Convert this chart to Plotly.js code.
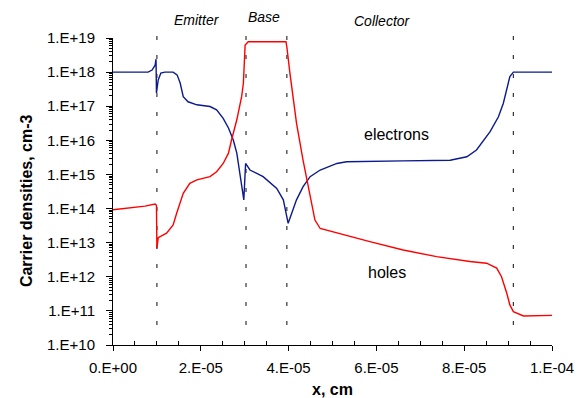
<!DOCTYPE html>
<html>
<head>
<meta charset="utf-8">
<script src="https://cdn.plot.ly/plotly-3.0.1.min.js"></script>
<style>html,body{margin:0;padding:0;background:#fff;}#chart{width:579px;height:398px;}</style>
</head>
<body>
<div id="chart"></div>
<script>
// ---- data (x in cm, densities in cm^-3) ----
const electronX = [0, 0.80e-5, 0.89e-5, 0.96e-5, 0.98e-5, 0.99e-5, 1.03e-5, 1.09e-5, 1.18e-5, 1.37e-5, 1.46e-5, 1.53e-5, 1.60e-5, 1.71e-5, 1.91e-5, 2.21e-5, 2.36e-5, 2.51e-5, 2.63e-5, 2.74e-5, 2.82e-5, 2.89e-5, 2.98e-5, 3.02e-5, 3.12e-5, 3.42e-5, 3.73e-5, 3.88e-5, 3.99e-5, 4.18e-5, 4.33e-5, 4.49e-5, 4.72e-5, 5.10e-5, 5.32e-5, 6.61e-5, 7.68e-5, 8.06e-5, 8.28e-5, 8.59e-5, 8.78e-5, 8.89e-5, 8.97e-5, 9.04e-5, 9.12e-5, 1.0e-4];
const electronN = [1e18, 1e18, 1.15e18, 1.6e18, 2.4e18, 2.45e17, 5.9e17, 9.4e17, 1e18, 1e18, 8.3e17, 4.8e17, 1.9e17, 1.35e17, 1.1e17, 9.8e16, 7.8e16, 4.4e16, 2.3e16, 1.02e16, 4.2e15, 1.08e15, 1.8e14, 2.1e15, 1.35e15, 8.6e14, 3.9e14, 1.8e14, 3.7e13, 1.8e14, 4.4e14, 8.6e14, 1.35e15, 2.1e15, 2.35e15, 2.5e15, 2.6e15, 3.3e15, 5.2e15, 1.8e16, 4.9e16, 1.2e17, 3.0e17, 7.4e17, 1e18, 1e18];

const holeX = [0, 0.39e-5, 0.73e-5, 0.96e-5, 0.99e-5, 1.00e-5, 1.03e-5, 1.22e-5, 1.37e-5, 1.45e-5, 1.60e-5, 1.75e-5, 1.91e-5, 2.21e-5, 2.36e-5, 2.51e-5, 2.63e-5, 2.70e-5, 2.82e-5, 2.93e-5, 2.97e-5, 3.01e-5, 3.08e-5, 3.94e-5, 3.96e-5, 4.03e-5, 4.18e-5, 4.33e-5, 4.49e-5, 4.60e-5, 4.72e-5, 5.10e-5, 5.85e-5, 6.61e-5, 7.37e-5, 8.13e-5, 8.51e-5, 8.74e-5, 8.85e-5, 8.97e-5, 9.04e-5, 9.12e-5, 9.35e-5, 1.0e-4];
const holeP = [9.2e13, 1.05e14, 1.18e14, 1.35e14, 1.25e14, 6.8e12, 1.4e13, 1.9e13, 3.3e13, 7.3e13, 2.8e14, 5.5e14, 6.9e14, 8.6e14, 1.2e15, 2.1e15, 4.2e15, 1.02e16, 4.0e16, 1.9e17, 4.7e17, 6.2e18, 7.8e18, 7.8e18, 5.5e18, 9.3e17, 3.2e16, 2.6e15, 2.2e14, 4.6e13, 2.6e13, 1.9e13, 1.07e13, 6.1e12, 3.9e12, 2.8e12, 2.5e12, 1.8e12, 1.0e12, 3.3e11, 1.5e11, 9.5e10, 7.1e10, 7.4e10];

const boundaries = [1.0e-5, 3.03e-5, 3.96e-5, 9.12e-5];
const regionNames = ["Emitter", "Base", "Collector"];
const regionX = [1.91e-5, 3.44e-5, 6.15e-5];

const xTickVals = [0, 2e-5, 4e-5, 6e-5, 8e-5, 1e-4];
const xTickText = ["0.E+00", "2.E-05", "4.E-05", "6.E-05", "8.E-05", "1.E-04"];
const yTickVals = [1e10, 1e11, 1e12, 1e13, 1e14, 1e15, 1e16, 1e17, 1e18, 1e19];
const yTickText = ["1.E+10", "1.E+11", "1.E+12", "1.E+13", "1.E+14", "1.E+15", "1.E+16", "1.E+17", "1.E+18", "1.E+19"];

const seriesLabels = ["electrons", "holes"];
const labelX = [6.45e-5, 6.23e-5];
const labelY = [1.45e16, 1.3e12];

const xTitle = "x, cm";
const yTitle = "Carrier densities, cm-3";

// minor ticks
const yMinor = [];
for (let d = 10; d < 19; d++) for (let k = 2; k <= 9; k++) yMinor.push(k * Math.pow(10, d));
const xMinor = [];
for (let i = 1; i < 20; i++) if (i % 4 !== 0) xMinor.push(i * 0.5e-5);

const FONT = "Liberation Sans, Arial, sans-serif";

const traces = [
  {x: electronX, y: electronN, mode: "lines", line: {color: "#0c1a8c", width: 1.4}, name: "electrons", hoverinfo: "skip"},
  {x: holeX, y: holeP, mode: "lines", line: {color: "#ff0000", width: 1.4}, name: "holes", hoverinfo: "skip"}
];

const shapes = boundaries.map(b => ({
  type: "line", xref: "x", yref: "paper", x0: b, x1: b, y0: 0.065, y1: 1.036,
  line: {color: "#333333", width: 1.2, dash: "4px,15px"}, layer: "below"
}));

const annotations = regionNames.map((t, i) => ({
  text: t, x: regionX[i], xref: "x", y: [1.059, 1.068, 1.056][i], yref: "paper",
  showarrow: false, font: {family: FONT, size: 14, color: "#000", style: "italic"}, xanchor: "center", yanchor: "middle"
})).concat(seriesLabels.map((t, i) => ({
  text: t, x: labelX[i], y: Math.log10(labelY[i]), xref: "x", yref: "y",
  showarrow: false, font: {family: FONT, size: 16, color: "#000"}, xanchor: "center", yanchor: "middle"
}))).concat([{
  text: "<b>" + yTitle + "</b>", xref: "paper", yref: "paper", x: -0.198, y: 0.469,
  textangle: -90, showarrow: false, xanchor: "center", yanchor: "middle",
  font: {family: FONT, size: 16, color: "#000"}
}]);

const layout = {
  width: 579, height: 398,
  margin: {l: 113, r: 27, t: 38, b: 53},
  paper_bgcolor: "#fff", plot_bgcolor: "#fff",
  showlegend: false,
  font: {family: FONT, color: "#000"},
  xaxis: {
    range: [0, 1e-4], showgrid: false, zeroline: false,
    showline: true, linecolor: "#000", linewidth: 1,
    tickmode: "array", tickvals: xTickVals, ticktext: xTickText,
    ticks: "outside", ticklen: 5, tickcolor: "#000",
    ticklabelstandoff: 4,
    tickfont: {family: FONT, size: 15, color: "#000"},
    minor: {tickmode: "array", tickvals: xMinor, ticks: "inside", ticklen: 4, tickcolor: "#000"},
    title: {text: "<b>" + xTitle + "</b>", font: {family: FONT, size: 16, color: "#000"}, standoff: 9}
  },
  yaxis: {
    type: "log", range: [10, 19], showgrid: false, zeroline: false,
    showline: true, linecolor: "#000", linewidth: 1,
    tickmode: "array", tickvals: yTickVals, ticktext: yTickText,
    ticks: "outside", ticklen: 6, tickcolor: "#000",
    ticklabelstandoff: 8,
    tickfont: {family: FONT, size: 15, color: "#000"},
    minor: {tickmode: "array", tickvals: yMinor, ticks: "outside", ticklen: 3, tickcolor: "#000"}
  },
  shapes: shapes,
  annotations: annotations
};

Plotly.newPlot("chart", traces, layout, {staticPlot: true, displayModeBar: false});
</script>
</body>
</html>
